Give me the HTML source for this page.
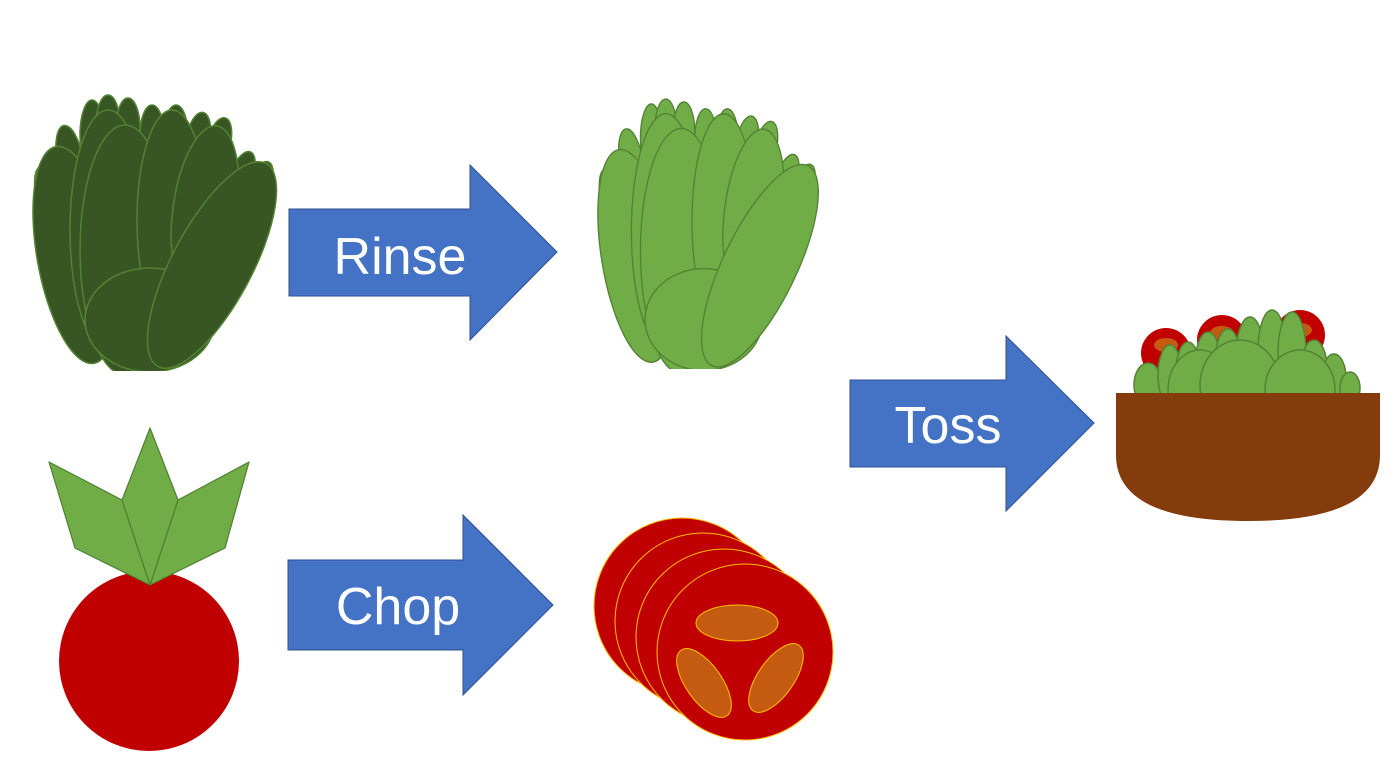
<!DOCTYPE html>
<html><head><meta charset="utf-8"><style>
html,body{margin:0;padding:0;background:#fff;width:1393px;height:779px;overflow:hidden}
svg{display:block}
text{font-family:"Liberation Sans",sans-serif;fill:#fff}
</style></head><body>
<svg width="1393" height="779" viewBox="0 0 1393 779">
<defs>
<g id="lettuce">
  <g>
    <ellipse cx="50" cy="200" rx="13" ry="35" transform="rotate(-15 50 200)"/>
    <ellipse cx="70" cy="160" rx="13" ry="35" transform="rotate(-10 70 160)"/>
    <ellipse cx="92" cy="135" rx="12" ry="35"/>
    <ellipse cx="108" cy="125" rx="12" ry="30"/>
    <ellipse cx="128" cy="128" rx="12" ry="30"/>
    <ellipse cx="152" cy="135" rx="12" ry="30"/>
    <ellipse cx="176" cy="135" rx="12" ry="30"/>
    <ellipse cx="198" cy="140" rx="12" ry="28" transform="rotate(10 198 140)"/>
    <ellipse cx="218" cy="145" rx="12" ry="28" transform="rotate(15 218 145)"/>
    <ellipse cx="240" cy="180" rx="12" ry="30" transform="rotate(20 240 180)"/>
    <ellipse cx="258" cy="190" rx="12" ry="30" transform="rotate(20 258 190)"/>
    <ellipse cx="75" cy="255" rx="38" ry="110" transform="rotate(-10 75 255)"/>
    <ellipse cx="108" cy="230" rx="38" ry="120"/>
    <ellipse cx="125" cy="250" rx="45" ry="125"/>
    <ellipse cx="172" cy="220" rx="35" ry="110"/>
    <ellipse cx="205" cy="210" rx="32" ry="85" transform="rotate(8 205 210)"/>
    <ellipse cx="150" cy="320" rx="65" ry="52"/>
    <ellipse cx="212" cy="265" rx="40" ry="115" transform="rotate(28 212 265)"/>
  </g>
</g>
</defs>

<g fill="#375623" stroke="#548235" stroke-width="1.5">
  <use href="#lettuce"/>
</g>
<rect x="20" y="371" width="270" height="12" fill="#fff"/>

<g fill="#70AD47" stroke="#548235" stroke-width="1.5">
  <use href="#lettuce" transform="translate(597,102) scale(0.905,0.98) translate(-32,-98)"/>
</g>
<rect x="590" y="369" width="240" height="12" fill="#fff"/>

<g>
  <polygon points="289,209 470,209 470,165 557,252 470,340 470,296 289,296" fill="#4472C4" stroke="#2F528F" stroke-width="1"/>
  <text x="400" y="274" font-size="52" text-anchor="middle">Rinse</text>
</g>
<g>
  <polygon points="288,560 463,560 463,515 553,605 463,695 463,650 288,650" fill="#4472C4" stroke="#2F528F" stroke-width="1"/>
  <text x="398" y="624" font-size="52" text-anchor="middle">Chop</text>
</g>
<g>
  <polygon points="850,380 1006,380 1006,336 1094,423 1006,511 1006,467 850,467" fill="#4472C4" stroke="#2F528F" stroke-width="1"/>
  <text x="948" y="443" font-size="52" text-anchor="middle">Toss</text>
</g>

<g>
  <circle cx="149" cy="661" r="90" fill="#C00000"/>
  <g fill="#70AD47" stroke="#507E32" stroke-width="1.2" stroke-linejoin="round">
    <polygon points="49,462 122,500 150,585 75,548"/>
    <polygon points="249,462 178,500 150,585 225,548"/>
    <polygon points="150,428 178,500 150,585 122,500"/>
  </g>
</g>

<g fill="#C00000" stroke="#FFC000" stroke-width="1">
  <circle cx="682" cy="606" r="88"/>
  <circle cx="703" cy="621" r="88"/>
  <circle cx="724" cy="637" r="88"/>
  <circle cx="745" cy="652" r="88"/>
  <g fill="#C55A11" stroke="#FFC000">
    <ellipse cx="737" cy="623" rx="41" ry="18"/>
    <ellipse cx="704" cy="683" rx="40" ry="18" transform="rotate(55 704 683)"/>
    <ellipse cx="776" cy="678" rx="40" ry="18" transform="rotate(-55 776 678)"/>
  </g>
</g>

<g>
  <g>
    <circle cx="1166" cy="353" r="25" fill="#C00000"/>
    <ellipse cx="1166" cy="345" rx="12" ry="7" fill="#C55A11"/>
    <circle cx="1222" cy="340" r="25" fill="#C00000"/>
    <ellipse cx="1222" cy="333" rx="12" ry="7" fill="#C55A11"/>
    <circle cx="1300" cy="335" r="25" fill="#C00000"/>
    <ellipse cx="1300" cy="330" rx="12" ry="7" fill="#C55A11"/>
  </g>
  <g fill="#70AD47" stroke="#548235" stroke-width="1.5">
    <ellipse cx="1148" cy="385" rx="14" ry="22"/>
    <ellipse cx="1170" cy="375" rx="12" ry="30"/>
    <ellipse cx="1188" cy="372" rx="12" ry="30"/>
    <ellipse cx="1208" cy="365" rx="13" ry="33"/>
    <ellipse cx="1228" cy="362" rx="13" ry="33"/>
    <ellipse cx="1250" cy="355" rx="14" ry="38"/>
    <ellipse cx="1272" cy="350" rx="14" ry="40"/>
    <ellipse cx="1292" cy="352" rx="14" ry="40"/>
    <ellipse cx="1314" cy="368" rx="13" ry="28"/>
    <ellipse cx="1334" cy="378" rx="12" ry="24"/>
    <ellipse cx="1350" cy="388" rx="10" ry="16"/>
    <ellipse cx="1200" cy="390" rx="32" ry="40"/>
    <ellipse cx="1240" cy="385" rx="40" ry="45"/>
    <ellipse cx="1300" cy="390" rx="35" ry="40"/>
  </g>
  <path d="M1116 393 H1380 V455 Q1380 521 1248 521 Q1116 521 1116 455 Z" fill="#843C0C"/>
</g>
</svg>
</body></html>
